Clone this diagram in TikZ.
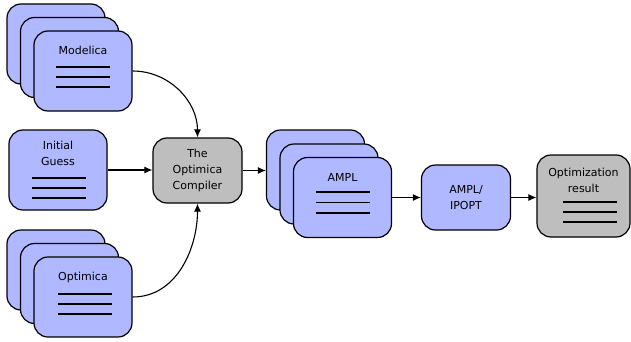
\documentclass[tikz,border=0pt]{standalone}
\usepackage{fontspec}
\setmainfont{DejaVu Sans}
\usetikzlibrary{arrows.meta,positioning}
\usetikzlibrary{calc}
\definecolor{cardblue}{RGB}{176,184,255}
\definecolor{cardgray}{RGB}{190,190,190}

\begin{document}
\begin{tikzpicture}[x=1pt,y=1pt,
        card/.style={draw, line width=1.2pt, fill=cardblue, rounded corners=14pt, minimum width=98pt, minimum height=80pt, inner sep=0pt},
        tool/.style={draw, line width=1.2pt, rounded corners=14pt, align=center, minimum width=89pt, minimum height=65pt, font=\fontsize{11}{16}\selectfont},
        txt/.style={align=center, inner sep=0pt, font=\fontsize{11}{16}\selectfont},
        rule/.style={line width=1.3pt},
        flow/.style={-{Latex[length=8pt,width=7pt]}, line width=1.1pt}]
        \useasboundingbox (0,0) rectangle (631,341);

        % draw the Modelica stack
        \node[card] (mod1) at (56,297) {};
        \node[card] (mod2) at (69.5,283.5) {};
        \node[card] (mod3) at (83,270) {};
        \node[txt] (modtext) at ($(mod3)+(0,21)$) {Modelica};
        \foreach \dy in {4,-6,-16}
            \draw[rule] ($(mod3)+(-27,\dy)$) -- +(54,0);

        % draw the initial guess
        \node[card] (guess) at (58,171) {};
        \node[txt] (guesstext) at ($(guess)+(0,17)$) {Initial\\Guess};
        \foreach \dy in {-8,-18,-28}
            \draw[rule] ($(guess)+(-26,\dy)$) -- +(54,0);

        % draw the Optimica stack
        \node[card] (opt1) at (56,71) {};
        \node[card] (opt2) at (69.5,57.5) {};
        \node[card] (opt3) at (83,44) {};
        \node[txt] (opttext) at ($(opt3)+(0,20)$) {Optimica};
        \foreach \dy in {3,-7,-17}
            \draw[rule] ($(opt3)+(-25,\dy)$) -- +(54,0);

        % the compiler
        \node[tool, fill=cardgray] (comp) at (197.5,170.5) {The\\Optimica\\Compiler};

        % draw the AMPL stack
        \node[card] (ampl1) at (315.5,171) {};
        \node[card] (ampl2) at (329,157) {};
        \node[card] (ampl3) at (342.5,143.5) {};
        \node[txt] (ampltext) at ($(ampl3)+(0,20.5)$) {AMPL};
        \foreach \dy in {5.5,-5,-15.5}
            \draw[rule] ($(ampl3)+(-26.5,\dy)$) -- +(54,0);

        % solver and result
        \node[tool, fill=cardblue] (ipopt) at (466,143.5) {AMPL/\\IPOPT};
        \node[card, fill=cardgray, minimum width=93pt, minimum height=82pt] (res) at (583.5,145) {};
        \node[txt] (restext) at ($(res)+(0,16)$) {Optimization\\result};
        \foreach \dy in {-6,-16,-26}
            \draw[rule] ($(res)+(-20.5,\dy)$) -- +(54,0);

        % arrows
        \draw[flow] (mod3.east) to[out=0,in=90] (comp.north);
        \draw[flow] (opt3.east) to[out=0,in=-90] (comp.south);
        \draw[flow] (guess.east) -- (guess.east -| comp.west);
        \draw[flow] (comp.east) -- (comp.east -| ampl1.west);
        \draw[flow] (ampl3.east) -- (ampl3.east -| ipopt.west);
        \draw[flow] (ipopt.east) -- (ipopt.east -| res.west);
\end{tikzpicture}
\end{document}
